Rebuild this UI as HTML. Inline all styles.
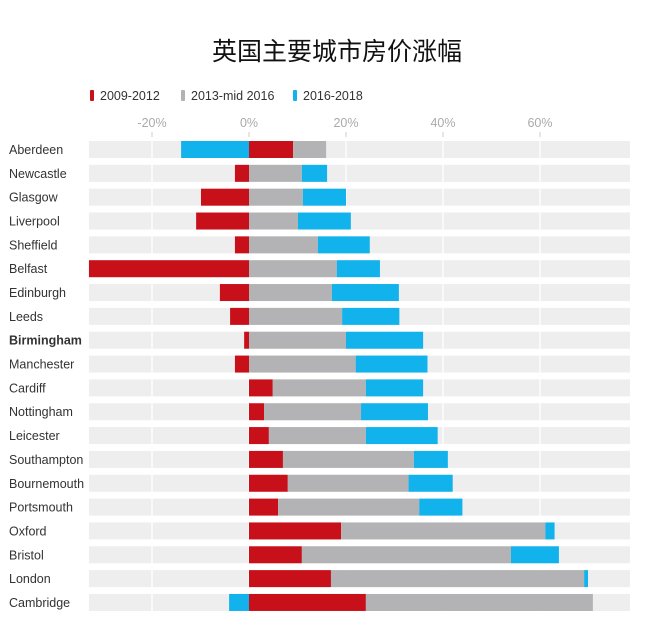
<!DOCTYPE html>
<html><head><meta charset="utf-8"><style>
body{margin:0;background:#fff;}
svg{display:block;font-family:"Liberation Sans","Noto Sans CJK SC",sans-serif;}
</style></head><body>
<svg id="c" width="645" height="628">
<text x="337" y="60" text-anchor="middle" font-size="25" fill="#111" font-family="Noto Sans CJK SC, sans-serif">英国主要城市房价涨幅</text>
<g font-size="12.5" fill="#333">
<rect x="90" y="90" width="4" height="11" rx="1" fill="#c8101a"/>
<text x="100" y="100">2009-2012</text>
<rect x="181" y="90" width="4" height="11" rx="1" fill="#b3b3b5"/>
<text x="191" y="100">2013-mid 2016</text>
<rect x="293" y="90" width="4" height="11" rx="1" fill="#12b2ec"/>
<text x="303" y="100">2016-2018</text>
</g>
<g id="plot"></g>
</svg>
<script>
const cities=["Aberdeen","Newcastle","Glasgow","Liverpool","Sheffield","Belfast","Edinburgh","Leeds","Birmingham","Manchester","Cardiff","Nottingham","Leicester","Southampton","Bournemouth","Portsmouth","Oxford","Bristol","London","Cambridge"];
const s2009=[9.1,-2.9,-9.9,-10.9,-2.9,-33,-6,-3.9,-1,-2.9,4.9,3.1,4.1,7,8,6,19,10.9,16.9,24.1];
const s2013=[6.8,10.9,11.1,10.1,14.2,18.1,17.1,19.2,20,22,19.2,20,20,27,24.9,29.1,42.1,43.1,52.2,46.8];
const s2016=[-14,5.2,8.9,10.9,10.7,8.9,13.8,11.8,15.9,14.8,11.8,13.8,14.8,7,9.1,8.9,1.9,9.9,0.8,-4.1];
const ticks=[-20,0,20,40,60];
const tickLabels=["-20%","0%","20%","40%","60%"];
const colors=["#c8101a","#b3b3b5","#12b2ec"];
const names=["2009-2012","2013-2016","2016-2018"];
const NS="http://www.w3.org/2000/svg";
const x=v=>249+v*4.85;
const y=i=>149.5+i*23.84;
const g=document.getElementById('plot');
function mk(t,a){const e=document.createElementNS(NS,t);for(const k in a)e.setAttribute(k,a[k]);g.appendChild(e);return e;}
cities.forEach((c,i)=>{
  const bg=mk('rect',{x:89,y:y(i)-8.5,width:541,height:17,fill:'#eeeeee'});
  
  
});
ticks.forEach((t,k)=>{
  const l=mk('line',{x1:x(t),x2:x(t),y1:136,y2:614,stroke:'#fff','stroke-width':1.3});
  
  
  const tk=mk('line',{x1:x(t),x2:x(t),y1:132,y2:137,stroke:'#ccc'});
  
  
  const tx=mk('text',{x:x(t),y:127,'text-anchor':'middle','font-size':12.5,fill:'#aaa'});
  tx.textContent=tickLabels[k];
  
  
});
cities.forEach((c,i)=>{
  const vals=[s2009[i],s2013[i],s2016[i]];
  let pos=0,neg=0;
  vals.forEach((v,j)=>{
    let a,b;
    if(v>=0){a=pos;b=pos+v;pos=b;}else{a=neg+v;b=neg;neg=a;}
    const r=mk('rect',{x:x(a),y:y(i)-8.5,width:x(b)-x(a),height:17,fill:colors[j]});
    
    
  });
  const t=mk('text',{x:9,y:y(i)+4.5,'font-size':12.5,fill:'#333'});
  if(c==="Birmingham")t.setAttribute('font-weight','bold');
  t.textContent=c;
  
  
});
</script>
</body></html>
